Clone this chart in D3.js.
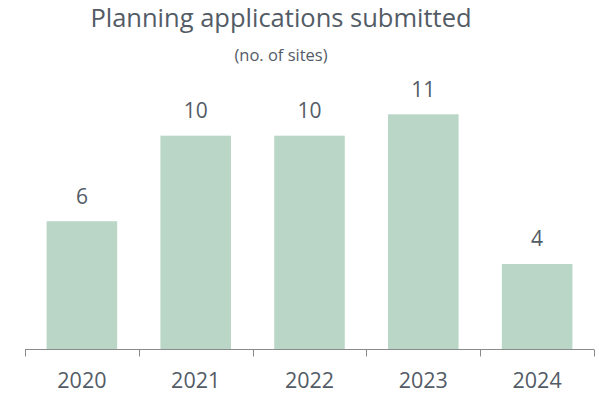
<!DOCTYPE html>
<html>
<head>
<meta charset="utf-8">
<script src="https://cdn.jsdelivr.net/npm/d3@7"></script>
<style>
  html, body { margin: 0; padding: 0; background: #fff; }
  svg { display: block; }
  text { font-family: "Open Sans", "Noto Sans", sans-serif; fill: #535c66; }
</style>
</head>
<body>
<svg id="chart" width="599" height="396"></svg>
<script>
// Planning applications submitted per year (number of sites)
const years = ["2020", "2021", "2022", "2023", "2024"];
const sites = [6, 10, 10, 11, 4];
const titleText = "Planning applications submitted";
const subtitleText = "(no. of sites)";

const W = 599, H = 396;
const svg = d3.select("#chart");

const x = d3.scaleBand()
  .domain(years)
  .range([25, 594])
  .paddingInner(0.38)
  .paddingOuter(0.19);

const y = d3.scaleLinear()
  .domain([0, d3.max(sites)])
  .range([349.5, 114.3]);

// Title and subtitle
svg.append("text")
  .attr("x", 281)
  .attr("y", 27)
  .attr("text-anchor", "middle")
  .style("font-size", "25.5px")
  .text(titleText);

svg.append("text")
  .attr("x", 281)
  .attr("y", 61)
  .attr("text-anchor", "middle")
  .style("font-size", "16.5px")
  .text(subtitleText);

const data = years.map((yr, i) => ({ year: yr, value: sites[i] }));

// Bars
svg.append("g")
  .selectAll("rect")
  .data(data)
  .join("rect")
  .attr("x", d => x(d.year))
  .attr("width", x.bandwidth())
  .attr("y", d => y(d.value))
  .attr("height", d => y(0) - y(d.value))
  .attr("fill", "#b9d6c6");

// Value labels
svg.append("g")
  .selectAll("text")
  .data(data)
  .join("text")
  .attr("x", d => x(d.year) + x.bandwidth() / 2)
  .attr("y", d => y(d.value) - 17.5)
  .attr("text-anchor", "middle")
  .style("font-size", "21px")
  .text(d => d.value);

// Category axis: baseline with ticks at band boundaries
const step = x.step();
const r0 = x.range()[0];
const boundaries = d3.range(years.length + 1).map(i => r0 + i * step);
const axis = svg.append("g");
axis.append("line")
  .attr("x1", x.range()[0]).attr("x2", x.range()[1])
  .attr("y1", y(0)).attr("y2", y(0))
  .attr("stroke", "#8a8a8a").attr("stroke-width", 1);
axis.selectAll("line.tick")
  .data(boundaries)
  .join("line")
  .attr("class", "tick")
  .attr("x1", d => Math.round(d) + 0.5).attr("x2", d => Math.round(d) + 0.5)
  .attr("y1", y(0)).attr("y2", y(0) + 7)
  .attr("stroke", "#8a8a8a").attr("stroke-width", 1);

axis.selectAll("text")
  .data(years)
  .join("text")
  .attr("x", d => x(d) + x.bandwidth() / 2)
  .attr("y", 388)
  .attr("text-anchor", "middle")
  .style("font-size", "21.5px")
  .text(d => d);
</script>
</body>
</html>
